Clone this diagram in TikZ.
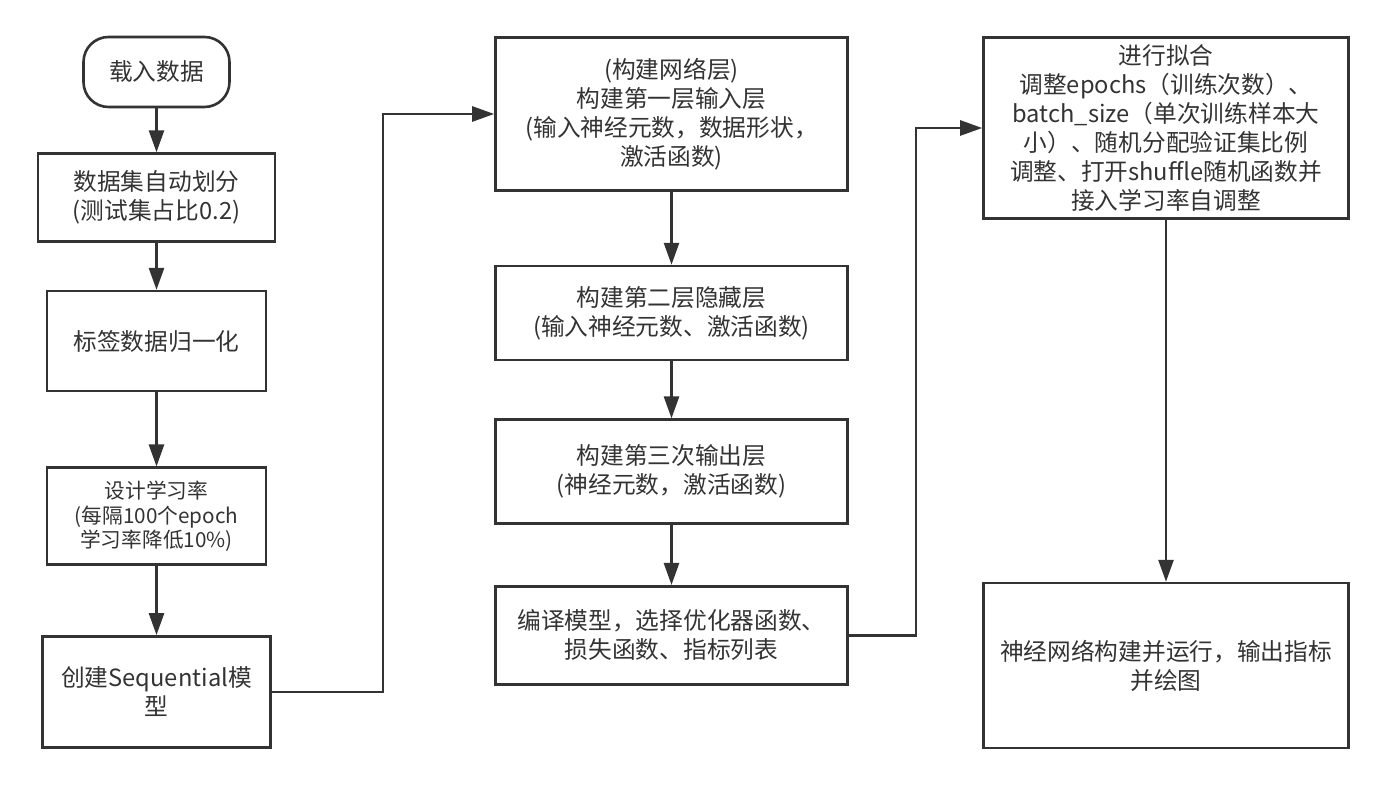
\documentclass[tikz,border=0pt]{standalone}
\usepackage{fontspec}
\setmainfont{Noto Sans CJK SC}
\usepackage{xcolor}
\usetikzlibrary{arrows.meta,positioning,calc}
\definecolor{ink}{HTML}{333333}

\begin{document}
\begin{tikzpicture}[x=1pt, y=1pt, font=\fontsize{23.7}{29}\selectfont, >={Triangle[length=22pt,width=15pt]}]
\tikzstyle{stage}=[draw=ink, line width=2.6pt, text=ink, align=center, inner sep=2pt]
\tikzstyle{flow}=[->, draw=ink, line width=2.6pt]
\useasboundingbox (0,0) rectangle (1386,786);
% column 1: data preparation
\node[stage, rounded corners=25pt, minimum width=146pt, minimum height=70pt] (load) at (156.5,714) {载入数据};
\node[stage, minimum width=237pt, minimum height=88pt, below=44pt of load] (split) {数据集自动划分\\(测试集占比0.2)};
\node[stage, minimum width=219pt, minimum height=100pt, below=47pt of split] (norm) {标签数据归一化};
\node[stage, minimum width=219pt, minimum height=97pt, below=74pt of norm, font=\fontsize{20.7}{24.3}\selectfont] (lr) {设计学习率\\(每隔100个epoch\\学习率降低10\%)};
\node[stage, minimum width=228pt, minimum height=111pt, below=69pt of lr] (seq) {创建Sequential模\\型};
% column 2: network layers
\node[stage, minimum width=352pt, minimum height=153pt] (layer1) at (671.5,672) {(构建网络层)\\构建第一层输入层\\(输入神经元数，数据形状，\\激活函数)};
\node[stage, minimum width=352pt, minimum height=94pt, below=73pt of layer1] (layer2) {构建第二层隐藏层\\(输入神经元数、激活函数)};
\node[stage, minimum width=352pt, minimum height=104pt, below=57pt of layer2] (layer3) {构建第三次输出层\\(神经元数，激活函数)};
\node[stage, minimum width=352pt, minimum height=98pt, below=60pt of layer3] (compile) {编译模型，选择优化器函数、\\损失函数、指标列表};
% column 3: fitting and output
\node[stage, minimum width=365pt, minimum height=181pt] (fit) at (1166,658) {进行拟合\\调整epochs（训练次数）、\\batch\_size（单次训练样本大\\小）、随机分配验证集比例\\调整、打开shuffle随机函数并\\接入学习率自调整};
\node[stage, minimum width=365pt, minimum height=165pt, below=362pt of fit] (run) {神经网络构建并运行，输出指标\\并绘图};
\coordinate (hop1) at (383,672);
\coordinate (hop2) at (916,658);
\draw[flow] (load)--(split);
\draw[flow] (split)--(norm);
\draw[flow] (norm)--(lr);
\draw[flow] (lr)--(seq);
\draw[flow] (seq.east) -| (hop1) -- (layer1.west);
\draw[flow] (layer1)--(layer2);
\draw[flow] (layer2)--(layer3);
\draw[flow] (layer3)--(compile);
\draw[flow] (compile.east) -| (hop2) -- (fit.west);
\draw[flow] (fit)--(run);
\end{tikzpicture}
\end{document}
